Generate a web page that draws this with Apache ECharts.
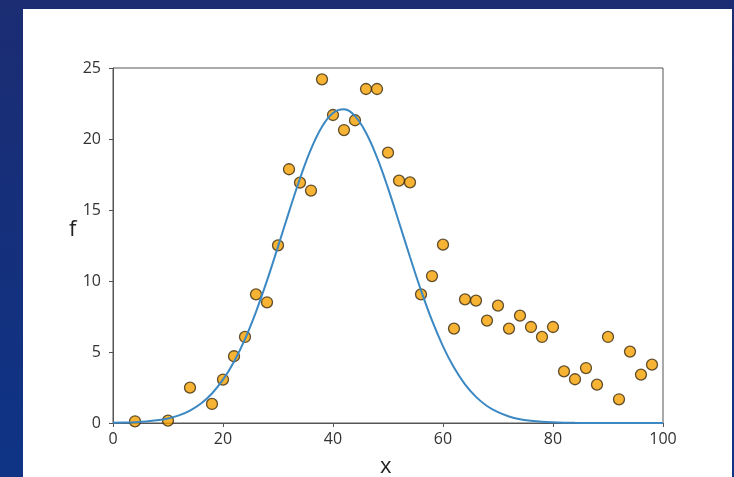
<!DOCTYPE html>
<html>
<head>
<meta charset="utf-8">
<script src="https://cdn.jsdelivr.net/npm/echarts@6/dist/echarts.min.js"></script>
<style>html,body{margin:0;padding:0;}#c{width:734px;height:477px;}</style>
</head>
<body>
<div id="c"></div>
<script>
// Observed data points (x, f)
const obsX = [4,10,14,18,20,22,24,26,28,30,32,34,36,38,40,42,44,46,48,50,52,54,56,58,60,62,64,66,68,70,72,74,76,78,80,82,84,86,88,90,92,94,96,98];
const obsF = [0.12,0.17,2.49,1.34,3.06,4.70,6.06,9.06,8.50,12.51,17.87,16.93,16.37,24.2,21.69,20.63,21.32,23.52,23.52,19.04,17.07,16.95,9.06,10.35,12.56,6.65,8.71,8.62,7.21,8.27,6.65,7.56,6.76,6.06,6.76,3.64,3.08,3.87,2.70,6.06,1.67,5.03,3.41,4.11];
// Fitted curve values
const curveX = [0,2,4,6,8,10,12,14,16,18,20,22,24,26,28,30,32,34,36,38,40,42,44,46,48,50,52,54,56,58,60,62,64,66,68,70,72,74,76,78,80,82,84,86,88,90,92,94,96,98,100];
const curveF = [0.015,0.029,0.056,0.103,0.186,0.322,0.539,0.875,1.37,2.08,3.05,4.32,5.91,7.83,10.03,12.42,14.87,17.22,19.28,20.86,21.83,22.09,21.61,20.44,18.70,16.54,14.14,11.69,9.34,7.22,5.40,3.90,2.72,1.84,1.20,0.76,0.46,0.27,0.16,0.086,0.046,0.023,0.011,0.005,0.002,0,0,0,0,0,0];
const xTicks = [0,20,40,60,80,100];
const yTicks = [0,5,10,15,20,25];
const xName = 'x';
const yName = 'f';

const chart = echarts.init(document.getElementById('c'), null, {renderer:'canvas'});
const font = 'Open Sans, Noto Sans, sans-serif';
chart.setOption({
  animation: false,
  backgroundColor: new echarts.graphic.LinearGradient(0,0,0,1,[{offset:0,color:'#1b2c72'},{offset:1,color:'#0f3486'}]),
  graphic: [{
    type:'rect', z:-10, silent:true,
    shape:{x:23, y:9, width:709, height:470},
    style:{fill:'#ffffff'}
  },{
    type:'text', left:380, top:456, silent:true,
    style:{text:xName, fontSize:22, fill:'#222', fontFamily:font}
  },{
    type:'text', left:69, top:219, silent:true,
    style:{text:yName, fontSize:22, fill:'#222', fontFamily:font}
  }],
  grid: {left:113, right:71, top:68, bottom:54, outerBoundsMode:'none', containLabel:false,
    show:true, borderColor:'#555', borderWidth:1, backgroundColor:'transparent'},
  xAxis: {
    type:'value', min:0, max:100, interval:20,
    axisLine:{show:true, lineStyle:{color:'#555', width:1}},
    axisTick:{show:true, length:4, lineStyle:{color:'#555'}},
    axisLabel:{color:'#333', fontSize:16, fontFamily:font, margin:8,
      formatter: v => xTicks.includes(v) ? String(v) : ''},
    splitLine:{show:false}
  },
  yAxis: {
    type:'value', min:0, max:25, interval:5,
    axisLine:{show:true, lineStyle:{color:'#555', width:1}},
    axisTick:{show:true, length:4, lineStyle:{color:'#555'}},
    axisLabel:{color:'#333', fontSize:16, fontFamily:font, margin:12,
      formatter: v => yTicks.includes(v) ? String(v) : ''},
    splitLine:{show:false}
  },
  series: [
    {
      type:'scatter', z:2,
      data: obsX.map((x,i)=>[x, obsF[i]]),
      symbol:'circle', symbolSize:11,
      itemStyle:{color:'#f5a000', borderColor:'#3a2a10', borderWidth:1.3}
    },
    {
      type:'line', z:3,
      data: curveX.map((x,i)=>[x, curveF[i]]),
      smooth:0.4, showSymbol:false, symbol:'none',
      lineStyle:{color:'#3b88c3', width:2}
    }
  ]
});
</script>
</body>
</html>
